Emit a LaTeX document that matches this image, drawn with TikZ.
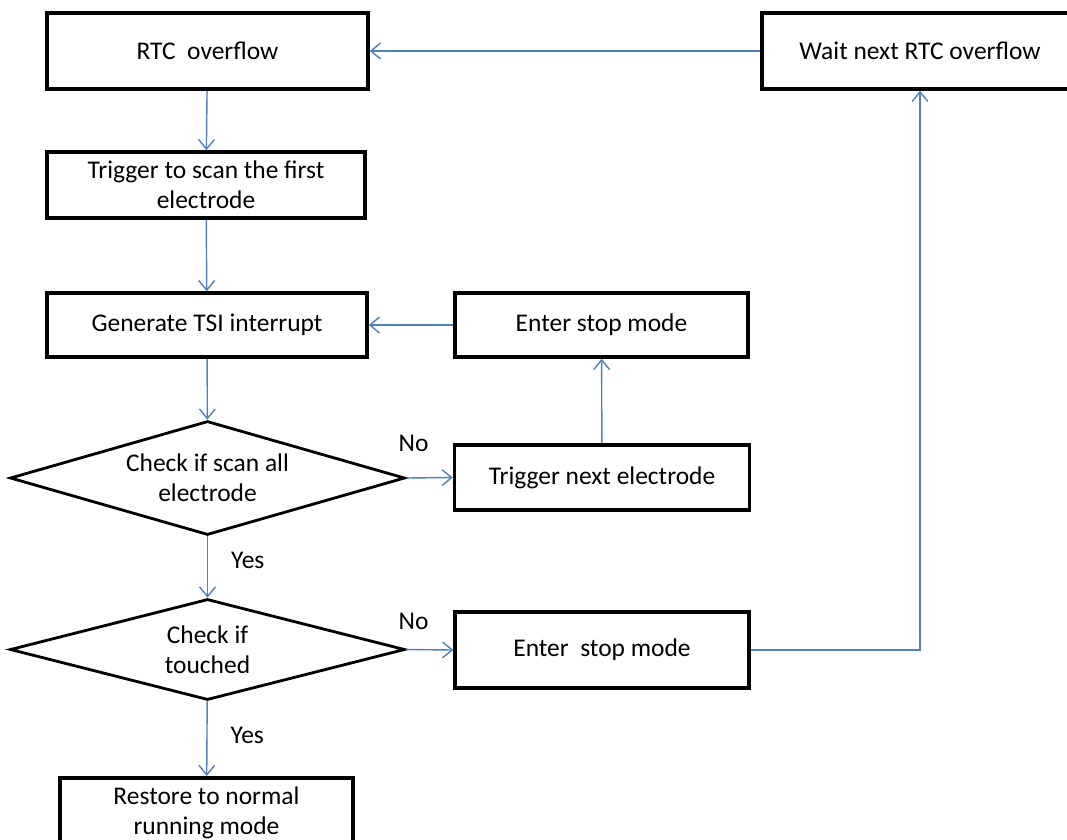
\documentclass[tikz,border=0pt]{standalone}
\usepackage{fontspec}
\setmainfont{Carlito}
\usetikzlibrary{shapes.geometric,arrows.meta,positioning}
\definecolor{flowblue}{RGB}{79,129,189}

\tikzset{
  box/.style={draw=black,line width=2pt,rectangle,inner sep=2pt,align=center,
    font=\fontsize{14.5}{17}\selectfont},
  dec/.style={draw=black,line width=1.6pt,diamond,inner sep=0pt,aspect=3.5,
    align=center,font=\fontsize{14.5}{17}\selectfont},
  flow/.style={draw=flowblue,line width=0.8pt,-{Straight Barb[length=5.5pt,width=9pt]}},
  lbl/.style={inner sep=0pt,font=\fontsize{14.5}{17}\selectfont}
}

\begin{document}
\begin{tikzpicture}[x=0.02cm,y=-0.02cm]
   \useasboundingbox (0,0) rectangle (1067,839);
   % left column
   \node[box,minimum width=6.42cm,minimum height=1.52cm] (rtc) at (207.5,51) {RTC\ \ overflow};
   \node[box,minimum width=6.36cm,minimum height=1.32cm] (trig) at (206,185) {Trigger to scan the first\\electrode};
   \node[box,minimum width=6.4cm,minimum height=1.28cm] (gen) at (207,325) {Generate TSI interrupt};
   \node[dec,minimum width=7.9cm,minimum height=2.28cm] (chk1) at (207.5,478) {Check if scan all\\electrode};
   \node[dec,minimum width=7.9cm,minimum height=2.02cm] (chk2) at (207.5,649.5) {Check if\\touched};
   \node[box,minimum width=5.86cm,minimum height=1.4cm,anchor=north] (rest) at (206.5,776) {Restore to normal\\running mode};
   % right column
   \node[box,minimum width=5.86cm,minimum height=1.28cm] (stop1) at (601.5,325) {Enter stop mode};
   \node[box,minimum width=5.9cm,minimum height=1.3cm] (next) at (602,477.5) {Trigger next electrode};
   \node[box,minimum width=5.88cm,minimum height=1.52cm] (stop2) at (602,650) {Enter\ \ stop mode};
   \node[box,minimum width=6.32cm,minimum height=1.52cm] (wait) at (920,51) {Wait next RTC overflow};

   \draw[flow] (rtc) -- (trig);
   \draw[flow] (trig) -- (gen);
   \draw[flow] (gen) -- (chk1);
   \draw[flow] (chk1) -- node[lbl,pos=0.4,right=0.46cm] (yes1) {Yes} (chk2);
   \draw[flow] (chk2) -- node[lbl,pos=0.45,right=0.46cm] (yes2) {Yes} (rest);
   \draw[flow] (chk1.east) -- (next.west);
   \draw[flow] (chk2.east) -- (stop2.west);
   \draw[flow] (next) -- (stop1);
   \draw[flow] (stop1) -- (gen);
   \draw[flow] (stop2.east) -| (wait.south);
   \draw[flow] (wait.west |- rtc.east) -- (rtc.east);
   \node[lbl,above right=0.52cm and -0.16cm of chk1.east] (no1) {No};
   \node[lbl,above right=0.38cm and -0.16cm of chk2.east] (no2) {No};
\end{tikzpicture}
\end{document}
